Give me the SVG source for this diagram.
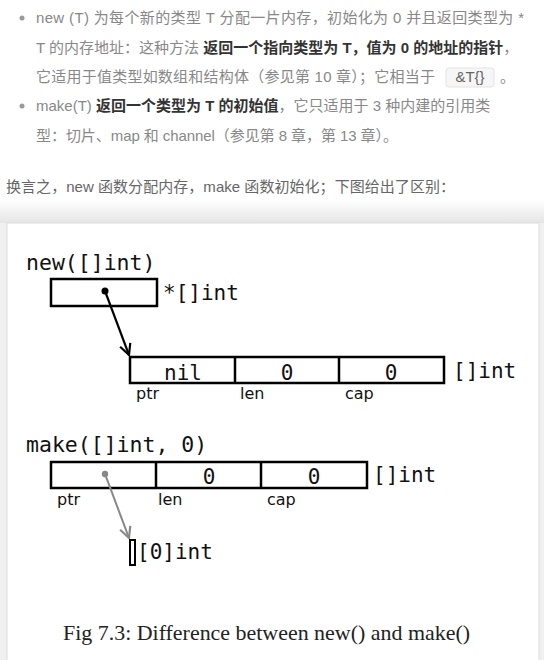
<svg xmlns="http://www.w3.org/2000/svg" width="544" height="660" viewBox="0 0 544 660">
<defs>
<linearGradient id="shade" x1="0" y1="0" x2="0" y2="1">
<stop offset="0" stop-color="#ffffff"/>
<stop offset="1" stop-color="#e4e4e4"/>
</linearGradient>
<marker id="arrBlack" viewBox="0 0 12 12" refX="11" refY="6" markerWidth="13" markerHeight="13" markerUnits="userSpaceOnUse" orient="auto">
<path d="M1,1 L11,6 L1,11" fill="none" stroke="#000" stroke-width="2"/>
</marker>
<marker id="arrGray" viewBox="0 0 12 12" refX="11" refY="6" markerWidth="13" markerHeight="13" markerUnits="userSpaceOnUse" orient="auto">
<path d="M1,1 L11,6 L1,11" fill="none" stroke="#888" stroke-width="2"/>
</marker>
<style>
.body{font-family:'Liberation Sans','Noto Sans CJK SC',sans-serif;font-size:15px;fill:#888}
.para{fill:#666}
.b{font-weight:bold;fill:#333}
.mono{font-family:'DejaVu Sans Mono',monospace;font-size:21px;fill:#111}
.lbl{font-family:'DejaVu Sans',sans-serif;font-size:16px;fill:#111}
.box{fill:none;stroke:#000;stroke-width:2.5}
.cap{font-family:'Liberation Serif',serif;font-size:22px;fill:#222}
</style>
</defs>
<rect x="0" y="0" width="544" height="660" fill="#fff"/>
<rect x="0" y="200" width="544" height="24" fill="url(#shade)"/>
<rect x="0" y="223" width="544" height="437" fill="#f0f0f0"/>
<rect x="7" y="223" width="532" height="440" fill="#fff" stroke="#dcdcdc" stroke-width="1"/>

<g id="text-intro" class="body">
<circle cx="22" cy="18" r="2.5" fill="#999"/>
<text x="36" y="23" textLength="488" lengthAdjust="spacing">new (T) 为每个新的类型 T 分配一片内存，初始化为 0 并且返回类型为 *</text>
<text x="36" y="53">T 的内存地址：这种方法 <tspan class="b">返回一个指向类型为 T，值为 0 的地址的指针</tspan>，</text>
<text x="36" y="82" textLength="399" lengthAdjust="spacing">它适用于值类型如数组和结构体（参见第 10 章）；它相当于</text>
<rect x="446" y="68" width="48" height="19" rx="3" fill="#f6f6f6" stroke="#e3e3e3"/>
<text x="470" y="82" text-anchor="middle" style="fill:#666">&amp;T{}</text>
<text x="500" y="82">。</text>
<circle cx="22" cy="106" r="2.5" fill="#999"/>
<text x="36" y="111">make(T) <tspan class="b">返回一个类型为 T 的初始值</tspan>，它只适用于 3 种内建的引用类</text>
<text x="36" y="141" textLength="362" lengthAdjust="spacing">型：切片、map 和 channel（参见第 8 章，第 13 章）。</text>
<text x="6" y="192" class="para" textLength="449" lengthAdjust="spacing">换言之，new 函数分配内存，make 函数初始化；下图给出了区别：</text>
</g>

<g id="new-call">
<text x="26" y="270" class="mono" style="font-size:21.5px">new([]int)</text>
</g>
<g id="new-pointer">
<rect x="51" y="279" width="106" height="27" class="box"/>
<circle cx="105" cy="291" r="3.5" fill="#000"/>
<text x="163" y="300" class="mono">*[]int</text>
</g>
<g id="new-slice">
<rect x="130" y="357" width="314" height="26" class="box"/>
<line x1="235" y1="357" x2="235" y2="383" stroke="#000" stroke-width="2.5"/>
<line x1="339" y1="357" x2="339" y2="383" stroke="#000" stroke-width="2.5"/>
<text x="183" y="380" class="mono" text-anchor="middle">nil</text>
<text x="287" y="380" class="mono" text-anchor="middle">0</text>
<text x="391" y="380" class="mono" text-anchor="middle">0</text>
<text x="453" y="378" class="mono">[]int</text>
<text x="136" y="399" class="lbl">ptr</text>
<text x="240" y="399" class="lbl">len</text>
<text x="345" y="399" class="lbl">cap</text>
</g>

<g id="make-call">
<text x="26" y="452" class="mono" style="font-size:21.5px">make([]int, 0)</text>
</g>
<g id="make-slice">
<rect x="51" y="462" width="316" height="26" class="box"/>
<line x1="156" y1="462" x2="156" y2="488" stroke="#000" stroke-width="2.5"/>
<line x1="261" y1="462" x2="261" y2="488" stroke="#000" stroke-width="2.5"/>
<circle cx="105" cy="474" r="3.2" fill="#888"/>
<text x="209" y="484" class="mono" text-anchor="middle">0</text>
<text x="314" y="484" class="mono" text-anchor="middle">0</text>
<text x="373" y="482" class="mono">[]int</text>
<text x="57" y="505" class="lbl">ptr</text>
<text x="158" y="505" class="lbl">len</text>
<text x="267" y="505" class="lbl">cap</text>
</g>
<g id="make-array">
<rect x="130" y="540" width="5" height="25" fill="#fff" stroke="#000" stroke-width="2"/>
<text x="137" y="559" class="mono">[0]int</text>
</g>

<g id="connectors">
<line x1="105" y1="291" x2="129" y2="355" stroke="#000" stroke-width="2.2" marker-end="url(#arrBlack)"/>
<line x1="105" y1="474" x2="129" y2="538" stroke="#888" stroke-width="2" marker-end="url(#arrGray)"/>
</g>

<g id="caption">
<text x="63" y="640" class="cap" textLength="407" lengthAdjust="spacingAndGlyphs">Fig 7.3: Difference between new() and make()</text>
</g>
</svg>
